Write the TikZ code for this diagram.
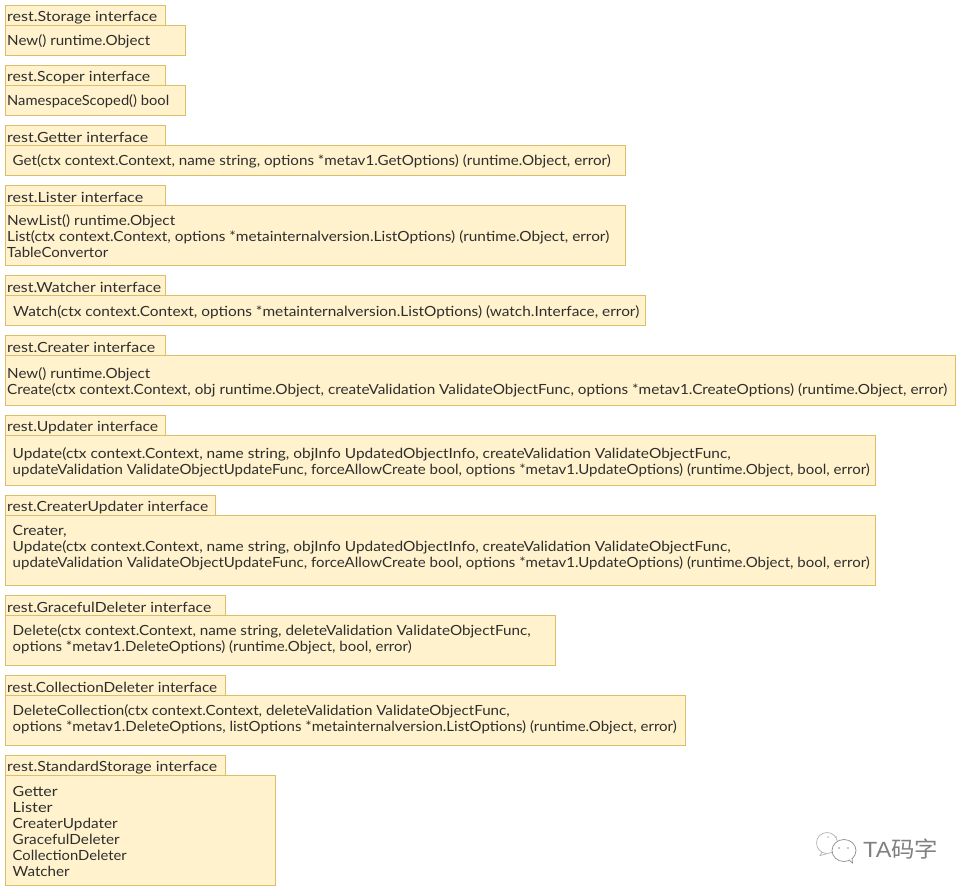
\documentclass[tikz,border=0pt]{standalone}
\usepackage{graphicx}
\usepackage{fontspec}
\setmainfont{Lato}
\newfontfamily\cjkfont{Noto Sans CJK SC}
\newfontfamily\wmfont{Liberation Sans}
\definecolor{boxfill}{HTML}{FFF2CC}
\definecolor{boxline}{HTML}{DDBE68}
\definecolor{ink}{HTML}{2E2E2E}
\definecolor{wm}{HTML}{808080}
\newsavebox{\fitbox}
% set a line of text to a given width in px
\newcommand{\fitl}[2]{\sbox{\fitbox}{#2}\pgfmathsetmacro{\fitratio}{#1/\wd\fitbox}\scalebox{\fitratio}[1]{\usebox{\fitbox}}}
\tikzset{
  x=1pt,y=-1pt,
  ifacebox/.style={draw=boxline,fill=boxfill,line width=0.9pt,anchor=north west,outer sep=0pt,inner sep=0pt},
  ifacetext/.style={anchor=west,inner sep=0pt,text=ink,align=left,font=\fontsize{14}{16}\selectfont},
}
% [#1 body text offset downward], #2 name, #3 tab top, #4 tab width, #5 title (fitted), #6 body height, #7 body width, #8 inset, #9 text
\newcommand{\iface}[9][0]{%
  \node[ifacebox,minimum height=20pt,minimum width=#4pt] (#2tab) at (5,#3) {};
  \node[ifacetext,xshift=2pt,yshift=-2.5pt] (#2title) at (#2tab.west) {#5};
  \node[ifacebox,minimum height=#6pt,minimum width=#7pt] (#2) at (#2tab.south west) {};
  \node[ifacetext,xshift=#8pt,yshift=-#1pt] (#2text) at (#2.west) {#9};
}
\begin{document}
\begin{tikzpicture}
\useasboundingbox (0,0) rectangle (971,891);
\fill[white] (0,0) rectangle (971,891);
\iface[1]{storage}{5}{160}{\fitl{150}{rest.Storage interface}}{30}{180}{2}{\fitl{143}{New() runtime.Object}}
\iface[1]{scoper}{65}{160}{\fitl{143}{rest.Scoper interface}}{30}{180}{2}{\fitl{162}{NamespaceScoped() bool}}
\iface[1]{getter}{125}{160}{\fitl{141}{rest.Getter interface}}{30}{620}{7.5}{\fitl{598}{Get(ctx context.Context, name string, options *metav1.GetOptions) (runtime.Object, error)}}
\iface[1]{lister}{185}{160}{\fitl{136}{rest.Lister interface}}{60}{620}{2}{\fitl{168}{NewList() runtime.Object}\\\fitl{602}{List(ctx context.Context, options *metainternalversion.ListOptions) (runtime.Object, error)}\\\fitl{101}{TableConvertor}}
\iface[2]{watcher}{275}{160}{\fitl{154}{rest.Watcher interface}}{30}{640}{8}{\fitl{626}{Watch(ctx context.Context, options *metainternalversion.ListOptions) (watch.Interface, error)}}
\iface[2]{creater}{335}{160}{\fitl{148}{rest.Creater interface}}{50}{950}{2}{\fitl{143}{New() runtime.Object}\\\fitl{940}{Create(ctx context.Context, obj runtime.Object, createValidation ValidateObjectFunc, options *metav1.CreateOptions) (runtime.Object, error)}}
\iface[2]{updater}{415}{160}{\fitl{151}{rest.Updater interface}}{50}{870}{7.5}{\fitl{718}{Update(ctx context.Context, name string, objInfo UpdatedObjectInfo, createValidation ValidateObjectFunc,}\\\fitl{857}{updateValidation ValidateObjectUpdateFunc, forceAllowCreate bool, options *metav1.UpdateOptions) (runtime.Object, bool, error)}}
\iface[-2]{createrupdater}{495}{210}{\fitl{201}{rest.CreaterUpdater interface}}{70}{870}{7.5}{\fitl{54}{Creater,}\\\fitl{718}{Update(ctx context.Context, name string, objInfo UpdatedObjectInfo, createValidation ValidateObjectFunc,}\\\fitl{857}{updateValidation ValidateObjectUpdateFunc, forceAllowCreate bool, options *metav1.UpdateOptions) (runtime.Object, bool, error)}}
\iface[-1]{graceful}{595}{220}{\fitl{204}{rest.GracefulDeleter interface}}{50}{550}{7.5}{\fitl{518}{Delete(ctx context.Context, name string, deleteValidation ValidateObjectFunc,}\\\fitl{399}{options *metav1.DeleteOptions) (runtime.Object, bool, error)}}
\iface[-1]{collection}{675}{220}{\fitl{210}{rest.CollectionDeleter interface}}{50}{680}{7.5}{\fitl{497}{DeleteCollection(ctx context.Context, deleteValidation ValidateObjectFunc,}\\\fitl{664}{options *metav1.DeleteOptions, listOptions *metainternalversion.ListOptions) (runtime.Object, error)}}
\iface[1]{standard}{755}{220}{\fitl{210}{rest.StandardStorage interface}}{110}{270}{7.5}{\fitl{45}{Getter}\\\fitl{40}{Lister}\\\fitl{105}{CreaterUpdater}\\\fitl{107}{GracefulDeleter}\\\fitl{114}{CollectionDeleter}\\\fitl{57}{Watcher}}
% watermark
\node[text=wm,anchor=base west,inner sep=0pt,font=\fontsize{22}{22}\selectfont] (mark) at (863,857) {\fitl{75}{{\wmfont TA}{\cjkfont 码字}}};
\draw[wm!60,fill=white,line width=0.7pt] (827,843) ellipse [x radius=10.5,y radius=10.5];
\draw[wm!60,line width=0.7pt] (822,852) -- (820,855.5) -- (826,854);
\draw[wm!90,fill=white,line width=0.7pt] (844,850.5) ellipse [x radius=12,y radius=11];
\draw[wm!90,fill=white,line width=0.7pt] (849,860) -- (852.5,863) -- (852,858);
\fill[wm!60] (828,837) circle (0.9) (836,837) circle (0.9);
\fill[wm!90] (839,848) circle (0.9) (848,848) circle (0.9);
\end{tikzpicture}
\end{document}
